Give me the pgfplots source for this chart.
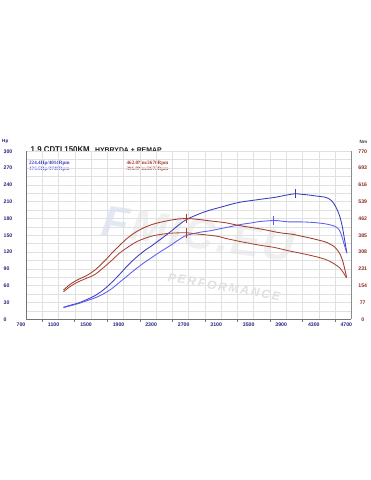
\documentclass[border=0pt]{standalone}
\usepackage{pgfplots}
\pgfplotsset{compat=1.18}
\usepackage{fontspec}
\setmainfont{Liberation Sans}
\newfontfamily\serifb{Liberation Serif}
\definecolor{tunedblue}{HTML}{3C3CBE}
\definecolor{stockblue}{HTML}{5C5CF2}
\definecolor{tunedred}{HTML}{A33A2C}
\definecolor{stockred}{HTML}{A84434}
\definecolor{hpnavy}{HTML}{25257E}
\definecolor{nmred}{HTML}{8C2A20}
\definecolor{gridc}{HTML}{E0E0E0}
\definecolor{logoblue}{HTML}{E2E8F4}
\definecolor{logogray}{HTML}{F0F0F0}

\pgfplotstableread{
rpm hp
1161 21.5
1242 25
1343 29
1444 35
1545 42
1647 52
1748 65
1849 80
1950 96
2051 110
2152 122
2253 132
2355 143
2456 154
2557 166
2658 177
2759 184
2860 190
2962 195
3063 199
3164 203
3265 207
3366 210
3467 212
3568 214
3670 216
3771 218
3872 221
4014 224.4
4074 223.5
4175 222
4277 220
4378 218
4438 214
4479 208
4519 198
4560 183
4590 165
4620 140
4646 118
}\tunedhp

\pgfplotstableread{
rpm hp
1161 21
1242 24
1343 28
1444 33
1545 38
1647 45
1748 54
1849 66
1950 78
2051 90
2152 101
2253 111
2355 121
2456 130
2557 140
2658 149
2759 153
2860 156
2962 158
3063 161
3164 164
3265 167
3366 170
3467 172
3568 174.5
3748 176.5
3830 175.5
3930 174
4074 174
4225 173
4357 171
4428 169
4499 166
4550 160
4580 150
4610 135
4641 120
}\stockhp

\pgfplotstableread{
rpm nm
1161 134
1242 160
1343 183
1444 200
1545 225
1647 260
1748 300
1849 338
1950 373
2051 400
2152 420
2253 435
2355 445
2456 453
2557 459
2670 462
2759 460
2860 456
2962 451
3063 447
3164 442
3265 434
3366 427
3467 421
3568 415
3670 408
3771 400
3872 394
3973 390
4074 382
4175 374
4277 365
4378 355
4438 345
4499 330
4560 300
4600 260
4641 195
}\tunednm

\pgfplotstableread{
rpm nm
1161 126
1242 150
1343 172
1444 188
1545 205
1647 235
1748 268
1849 303
1950 330
2051 354
2152 370
2253 382
2355 389
2456 394
2557 396
2672 396.9
2759 393
2860 389
2962 385
3063 380
3164 370
3265 362
3366 354
3467 347
3568 340
3730 331
3830 323
3930 314
4074 303
4175 295
4277 286
4378 275
4438 265
4499 252
4560 235
4600 215
4641 190
}\stocknm

\begin{document}
\begin{tikzpicture}[x=1bp,y=1bp]
\path[use as bounding box, fill=white] (0,0) rectangle (370,-480);
% watermark logo
\node[anchor=center, inner sep=0, rotate=-8,
  font=\bfseries\itshape\fontsize{44}{48}\selectfont] at (198,-234)
  {\textcolor{logoblue}{F}\kern3bp\textcolor{logogray}{M\kern2bp I\kern2bp C\kern2bp .\kern2bp E\kern2bp U}};
\node[anchor=center, inner sep=0, rotate=-10,
  font=\bfseries\itshape\fontsize{12}{13}\selectfont, text=black!12] at (224,-287)
  {P\,E\,R\,F\,O\,R\,M\,A\,N\,C\,E};
% titles
\node[anchor=base west, inner sep=0, text=black!88,
  font=\bfseries\fontsize{8.5}{9}\selectfont] at (30.5,-152.3)
  {\scalebox{0.93}[1]{1.9 CDTI 150KM}};
\node[anchor=base west, inner sep=0, text=black!88,
  font=\bfseries\fontsize{6.9}{7}\selectfont] at (95,-152.3) {HYBRYDA + REMAP};
\node[anchor=west, inner sep=0, text=hpnavy, font=\bfseries\fontsize{4.6}{5}\selectfont] at (2,-141) {Hp};
\node[anchor=west, inner sep=0, text=black!80, font=\bfseries\fontsize{4.6}{5}\selectfont] at (359.5,-142) {Nm};
% peak annotations
\node[anchor=west, inner sep=0, text=tunedblue, font=\serifb\bfseries\fontsize{5.1}{5.5}\selectfont] at (29,-163.3) {224.4Hp/4014Rpm};
\node[anchor=west, inner sep=0, text=stockblue, font=\serifb\bfseries\fontsize{5.1}{5.5}\selectfont] at (29,-169) {176.5Hp/3748Rpm};
\node[anchor=west, inner sep=0, text=tunedred, font=\serifb\bfseries\fontsize{5.1}{5.5}\selectfont] at (126.5,-163.3) {462.0Nm/2670Rpm};
\node[anchor=west, inner sep=0, text=stockred, font=\serifb\bfseries\fontsize{5.1}{5.5}\selectfont] at (126.5,-169) {396.9Nm/2672Rpm};

\begin{axis}[
  at={(26bp,-319.3bp)}, anchor=south west,
  scale only axis, width=325.3bp, height=168bp,
  xmin=700, xmax=4700, ymin=0, ymax=300,
  axis x line*=bottom, axis y line*=left,
  axis line style={-, draw=black!55, line width=1bp},
  xtick={700,1100,...,4700},
  minor xtick={900,1100,...,4500},
  ytick={0,30,...,300},
  minor ytick={15,45,...,285},
  major tick length=0pt, minor tick length=0pt,
  xmajorgrids=false, xminorgrids=true, ymajorgrids=true, yminorgrids=true,
  minor grid style={draw=gridc, line width=0.5bp},
  major grid style={draw=gridc, line width=0.5bp},
  extra x ticks={900,1300,...,4500}, extra x tick labels={},
  extra x tick style={grid=none, major tick length=2.5bp, tick align=outside,
    tick style={draw=black!55, line width=0.6bp}},
  /pgf/number format/assume math mode=true,
  /pgf/number format/1000 sep={},
  xticklabel style={font=\bfseries\fontsize{5.2}{6}\selectfont, text=hpnavy, inner sep=0pt, anchor=north, xshift=-5bp, yshift=-3.8bp},
  yticklabel style={font=\bfseries\fontsize{5.2}{6}\selectfont, text=hpnavy, inner sep=0pt, anchor=west, xshift=-22.5bp},
  clip=false,
]
\addplot[tunedblue, line width=0.85bp, smooth] table[x=rpm, y=hp] {\tunedhp};
\addplot[stockblue, line width=0.85bp, smooth] table[x=rpm, y=hp] {\stockhp};
\addplot[tunedblue, only marks, mark=|, mark size=4.5bp, mark options={line width=0.8bp}] coordinates {(4014,224.4)};
\addplot[stockblue, only marks, mark=|, mark size=4.5bp, mark options={line width=0.8bp}] coordinates {(3748,176.5)};
\end{axis}

\begin{axis}[
  at={(26bp,-319.3bp)}, anchor=south west,
  scale only axis, width=325.3bp, height=168bp,
  xmin=700, xmax=4700, ymin=0, ymax=770,
  axis x line=none, axis y line*=right,
  axis line style={-, draw=black!45, line width=1bp},
  ytick={0,77,154,231,308,385,462,539,616,693,770},
  major tick length=0pt,
  /pgf/number format/assume math mode=true,
  /pgf/number format/1000 sep={},
  yticklabel style={font=\bfseries\fontsize{5.2}{6}\selectfont, text=nmred, inner sep=0pt, anchor=center, xshift=11.4bp},
  clip=false,
]
\addplot[tunedred, line width=0.85bp, smooth] table[x=rpm, y=nm] {\tunednm};
\addplot[stockred, line width=0.85bp, smooth] table[x=rpm, y=nm] {\stocknm};
\addplot[tunedred, only marks, mark=|, mark size=4.8bp, mark options={line width=0.8bp}] coordinates {(2670,462)};
\addplot[stockred, only marks, mark=|, mark size=4.8bp, mark options={line width=0.8bp}] coordinates {(2672,396.9)};
\end{axis}
\end{tikzpicture}
\end{document}
